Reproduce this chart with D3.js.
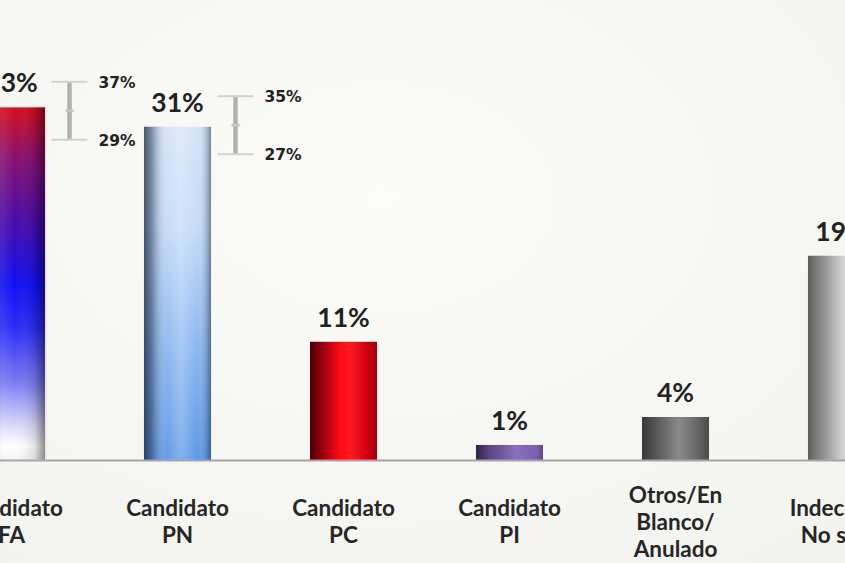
<!DOCTYPE html>
<html>
<head>
<meta charset="utf-8">
<script src="https://cdn.jsdelivr.net/npm/d3@7"></script>
<style>
  html, body { margin: 0; padding: 0; background: #f7f7f3; overflow: hidden; }
  svg { display: block; }
  text { font-family: Lato, "Open Sans", sans-serif; font-weight: 700; }
</style>
</head>
<body>
<svg id="chart" width="845" height="563"></svg>
<script>
// ---- data ----
const categories = ["Candidato FA", "Candidato PN", "Candidato PC", "Candidato PI", "Otros/En Blanco/ Anulado", "Indecisos/ No sabe"];
const categoryLines = [["Candidato", "FA"], ["Candidato", "PN"], ["Candidato", "PC"], ["Candidato", "PI"], ["Otros/En", "Blanco/", "Anulado"], ["Indecisos/", "No sabe"]];
const values = [32.8, 31, 11, 1.4, 4, 19];
const valueLabels = ["33%", "31%", "11%", "1%", "4%", "19%"];
const errCategories = ["Candidato FA", "Candidato PN"];
const errLow = [29, 27];
const errHigh = [37, 35];

const W = 845, H = 563;
const svg = d3.select("#chart");

const defs = svg.append("defs");
const bg = defs.append("radialGradient").attr("id", "bg").attr("cx", "0.45").attr("cy", "0.35").attr("r", "0.8");
bg.append("stop").attr("offset", "0").attr("stop-color", "#fbfbf8");
bg.append("stop").attr("offset", "1").attr("stop-color", "#f3f3ef");
svg.append("rect").attr("width", W).attr("height", H).attr("fill", "url(#bg)");

const baseY = 460;
const x = d3.scaleBand().domain(categories).range([-71.5, -71.5 + 6 * 166]).paddingInner(0.596).paddingOuter(0.298);
const y = d3.scaleLinear().domain([0, 40]).range([baseY, 30]);
// error bars are drawn on their own (compressed) scale in the original
const errY = d3.scaleLinear().domain([0, 40]).range([350, 60]);

function hGrad(id, stops) {
  const g = defs.append("linearGradient").attr("id", id).attr("x1", 0).attr("x2", 1).attr("y1", 0).attr("y2", 0);
  stops.forEach(s => g.append("stop").attr("offset", s[0]).attr("stop-color", s[1]).attr("stop-opacity", s[2] == null ? 1 : s[2]));
}
function vGrad(id, stops) {
  const g = defs.append("linearGradient").attr("id", id).attr("x1", 0).attr("x2", 0).attr("y1", 0).attr("y2", 1);
  stops.forEach(s => g.append("stop").attr("offset", s[0]).attr("stop-color", s[1]).attr("stop-opacity", s[2] == null ? 1 : s[2]));
}

vGrad("g0", [[0, "#d40d1c"], [0.14, "#8a1070"], [0.32, "#4a0aa8"], [0.5, "#1010f2"], [0.62, "#2a2af6"], [0.78, "#7a7af2"], [0.9, "#d8d8fa"], [0.96, "#ffffff"], [1, "#f4f4f8"]]);
hGrad("s0", [[0, "#000", 0.3], [0.4, "#fff", 0.08], [0.55, "#fff", 0.0], [0.85, "#000", 0.12], [1, "#000", 0.45]]);
vGrad("g1", [[0, "#d4e4f8"], [0.3, "#c4dbf8"], [0.65, "#8db8f0"], [1, "#5c98e6"]]);
hGrad("s1", [[0, "#1a2436", 0.75], [0.12, "#2a3a55", 0.5], [0.35, "#ffffff", 0.05], [0.55, "#ffffff", 0.25], [0.8, "#ffffff", 0.0], [0.95, "#2a3a55", 0.3], [1, "#1a2436", 0.5]]);
hGrad("g2", [[0, "#4a0006"], [0.15, "#8a000c"], [0.45, "#ff0a14"], [0.6, "#ff1a20"], [0.85, "#d00010"], [1, "#a0000c"]]);
hGrad("g3", [[0, "#2e2344"], [0.2, "#5a4484"], [0.6, "#8a70c0"], [0.9, "#7a62ae"], [1, "#5a4a80"]]);
hGrad("g4", [[0, "#383838"], [0.2, "#555555"], [0.55, "#8a8a8a"], [0.8, "#6a6a6a"], [1, "#4a4a4a"]]);
hGrad("g5", [[0, "#5c5c5c"], [0.12, "#7a7a7a"], [0.3, "#a0a0a0"], [0.5, "#cfcfcf"], [0.7, "#e6e6e6"], [1, "#dadada"]]);

const g = svg.append("g");

g.selectAll("rect.bar").data(categories).enter().append("rect")
  .attr("class", "bar")
  .attr("x", d => x(d))
  .attr("y", (d, i) => y(values[i]))
  .attr("width", x.bandwidth())
  .attr("height", (d, i) => baseY - y(values[i]))
  .attr("fill", (d, i) => `url(#g${i})`);

[0, 1].forEach(i => {
  g.append("rect")
    .attr("x", x(categories[i]))
    .attr("y", y(values[i]))
    .attr("width", x.bandwidth())
    .attr("height", baseY - y(values[i]))
    .attr("fill", `url(#s${i})`);
});
g.append("rect")
  .attr("x", x(categories[0]))
  .attr("y", y(values[0]) - 1)
  .attr("width", x.bandwidth() + 1)
  .attr("height", baseY - y(values[0]) + 1)
  .attr("fill", "none")
  .attr("stroke", "#f4c8d8")
  .attr("stroke-width", 1)
  .attr("opacity", 0.7);

// axis
const axis = d3.axisBottom(x).tickSize(0).tickPadding(0).tickFormat("");
const ax = svg.append("g").attr("transform", `translate(0,${baseY})`).call(axis);
ax.select(".domain").attr("stroke", "#a6a6a6").attr("stroke-width", 2);

const lineH = 27, midY = 529.5;
ax.selectAll(".tick").each(function (d, i) {
  const lines = categoryLines[i];
  const t = d3.select(this).append("text")
    .attr("fill", "#262626")
    .attr("font-size", 22.5)
    .attr("text-anchor", "middle");
  const startY = midY - baseY - (lines.length - 1) * lineH / 2;
  lines.forEach((ln, k) => {
    t.append("tspan").attr("x", 0).attr("y", startY + k * lineH).text(ln);
  });
});

// value labels
g.selectAll("text.val").data(categories).enter().append("text")
  .attr("class", "val")
  .attr("x", d => x(d) + x.bandwidth() / 2)
  .attr("y", (d, i) => y(values[i]) - 15)
  .attr("text-anchor", "middle")
  .attr("font-size", 26.5)
  .attr("fill", "#222")
  .text((d, i) => valueLabels[i]);

// error bars
errCategories.forEach((c, j) => {
  const cx = x(c) + x.bandwidth() / 2 + 58;
  const yHi = errY(errHigh[j]);
  const yLo = errY(errLow[j]);
  const cy = errY((errHigh[j] + errLow[j]) / 2);
  const eg = g.append("g");
  eg.append("line").attr("x1", cx).attr("x2", cx).attr("y1", yHi).attr("y2", yLo)
    .attr("stroke", "#b0b0ae").attr("stroke-width", 4.5);
  [yHi, yLo].forEach(yy => {
    eg.append("line").attr("x1", cx - 18).attr("x2", cx + 18).attr("y1", yy).attr("y2", yy)
      .attr("stroke", "#d2d2d0").attr("stroke-width", 2);
  });
  eg.append("line").attr("x1", cx - 4).attr("x2", cx + 4).attr("y1", cy).attr("y2", cy)
    .attr("stroke", "#c4c4c2").attr("stroke-width", 3);
  eg.selectAll("text").data([errHigh[j], errLow[j]]).enter().append("text")
    .attr("x", cx + 29)
    .attr("y", v => errY(v) + 6)
    .style("font-family", "'DejaVu Sans', Verdana, sans-serif")
    .style("font-weight", "700")
    .attr("font-size", 15.5)
    .attr("fill", "#222")
    .text(v => v + "%");
});
</script>
</body>
</html>
